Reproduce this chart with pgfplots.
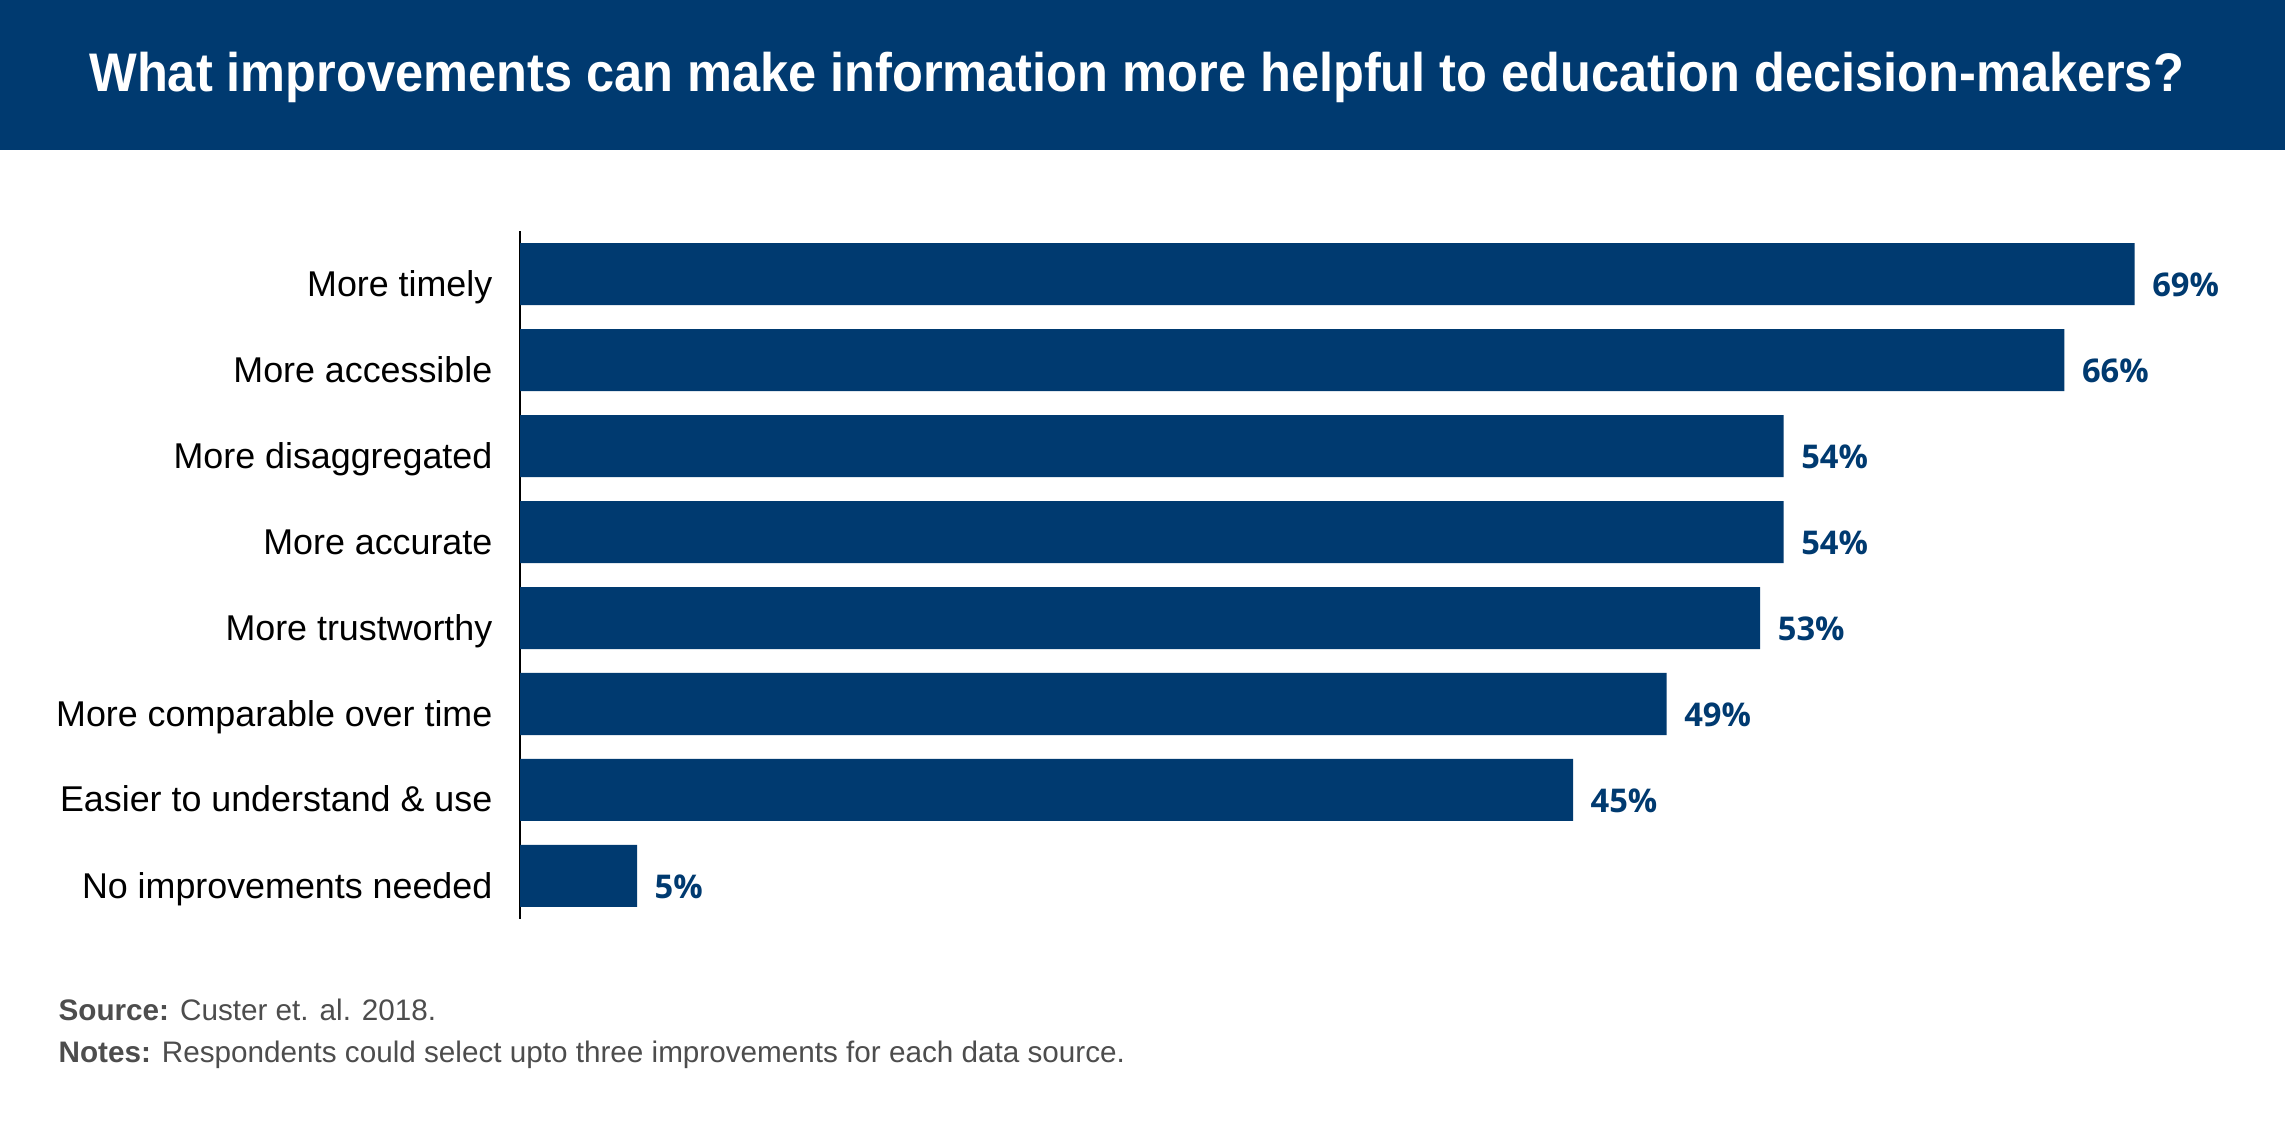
\documentclass[border=0pt]{standalone}
\usepackage{pgfplots}
\pgfplotsset{compat=1.18}
\usepackage{fontspec}
\setmainfont{Liberation Sans}
\newfontfamily\valfont{Open Sans}
\definecolor{navy}{RGB}{0,58,112}
\definecolor{srcgray}{RGB}{77,77,77}
\begin{document}
\begin{tikzpicture}[x=1pt,y=1pt]
\useasboundingbox (0,0) rectangle (685.5,342);
\fill[white] (0,0) rectangle (685.5,342);
\fill[navy] (0,297) rectangle (685.5,342);
\node[anchor=base, inner sep=0pt, text=white, font=\fontsize{16.3}{19}\selectfont\bfseries] at (341,314.4)
  {\scalebox{0.93}[1]{What improvements can make information more helpful to education decision-makers?}};
\begin{axis}[
  at={(156pt,66.3pt)}, anchor=south west,
  scale only axis, width=526.5pt, height=206.4pt,
  xbar, bar width=18.6pt, bar shift=0pt,
  xmin=0, xmax=75, ymin=-0.5, ymax=7.5, y dir=reverse,
  axis x line=none, axis y line*=left,
  axis line style={black, line width=0.6pt},
  ytick={0,...,7},
  yticklabels={More timely,More accessible,More disaggregated,More accurate,More trustworthy,More comparable over time,Easier to understand \& use,No improvements needed},
  major tick length=0pt,
  yticklabel style={anchor=base east, inner sep=0pt, xshift=-8.1pt, yshift=-6.6pt, font=\fontsize{10.75}{13}\selectfont, text=black},
  point meta=x,
  nodes near coords={\pgfmathprintnumber[assume math mode=true]{\pgfplotspointmeta}\%},
  every node near coord/.append style={anchor=base west, inner sep=0pt, xshift=5.1pt, yshift=-6.75pt, font=\valfont\bfseries\fontsize{9.8}{12}\selectfont, text=navy},
  clip=false,
]
\addplot[fill=navy, draw=none] coordinates {(69,0) (66,1) (54,2) (54,3) (53,4) (49,5) (45,6) (5,7)};
\end{axis}
\node[anchor=base west, inner sep=0pt, text=srcgray, font=\fontsize{8.9}{11}\selectfont] at (17.4,35.7) {\textbf{Source:} Custer et. al. 2018.};
\node[anchor=base west, inner sep=0pt, text=srcgray, font=\fontsize{8.9}{11}\selectfont] at (17.4,23.1) {\textbf{Notes:} Respondents could select upto three improvements for each data source.};
\end{tikzpicture}
\end{document}
